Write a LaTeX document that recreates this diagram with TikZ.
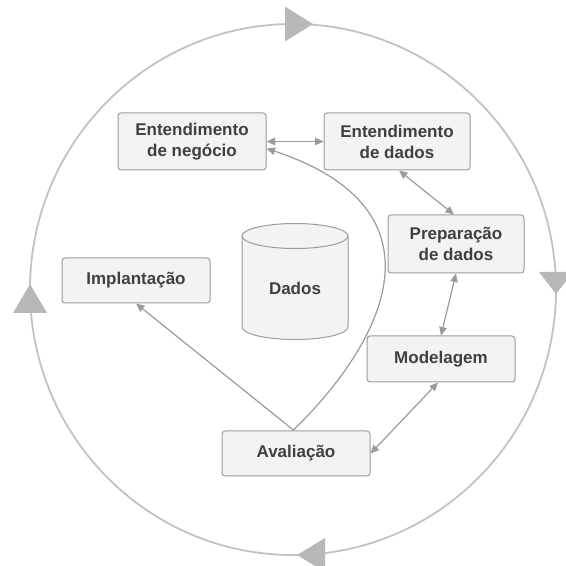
\documentclass[tikz,border=0pt]{standalone}
\usepackage{fontspec}
\setmainfont{Liberation Sans}
\usetikzlibrary{arrows.meta}
\definecolor{boxfill}{HTML}{F3F3F3}
\definecolor{boxline}{HTML}{9C9C9C}
\definecolor{txt}{HTML}{404040}
\definecolor{ring}{HTML}{C2C2C2}
\definecolor{tri}{HTML}{B8B8B8}
\definecolor{conn}{HTML}{9A9A9A}
\begin{document}
\begin{tikzpicture}[x=1pt,y=1pt,
  stagebox/.style={draw=boxline, fill=boxfill, line width=1pt, rounded corners=3pt,
    align=center, font=\fontsize{17}{21}\selectfont\bfseries, text=txt, inner sep=0pt},
  twoway/.style={draw=conn, line width=1.2pt,
    {Triangle[length=8.5pt,width=7.5pt]}-{Triangle[length=8.5pt,width=7.5pt]}},
  oneway/.style={draw=conn, line width=1.2pt, -{Triangle[length=8.5pt,width=7.5pt]}},
  ringtri/.style={fill=tri}
]
\useasboundingbox (0,0) rectangle (566,566);
% cycle ring
\draw[ring, line width=1.8pt] (293,276.5) ellipse[x radius=263, y radius=265.5];
\fill[ringtri] (313,542) -- (285,559.5) -- (285,524.5) -- cycle;
\fill[ringtri] (556,272) -- (539,294) -- (573,294) -- cycle;
\fill[ringtri] (30,282) -- (13,253) -- (47,253) -- cycle;
\fill[ringtri] (297,11) -- (325,28) -- (325,-6) -- cycle;

% data cylinder
\filldraw[draw=boxline, fill=boxfill, line width=1pt]
  (242,330) -- (242,239) arc[start angle=180, end angle=360, x radius=53, y radius=12.5]
  -- (348,330) arc[start angle=0, end angle=180, x radius=53, y radius=12.5] -- cycle;
\draw[boxline, line width=1pt] (242,330) arc[start angle=180, end angle=360, x radius=53, y radius=12.5];
\node[font=\fontsize{17}{21}\selectfont\bfseries, text=txt] (dados) at (295,278) {Dados};

% stages
\node[stagebox, minimum width=148pt, minimum height=57pt] (neg) at (192,424.5) {Entendimento\\de negócio};
\node[stagebox, minimum width=146pt, minimum height=57pt] (dad) at (397,424.5) {Entendimento\\de dados};
\node[stagebox, minimum width=136pt, minimum height=58pt] (prep) at (456,322) {Preparação\\de dados};
\node[stagebox, minimum width=148pt, minimum height=46pt] (mod) at (441,207) {Modelagem};
\node[stagebox, minimum width=148pt, minimum height=45pt] (impl) at (136,285.5) {Implantação};
\node[stagebox, minimum width=148pt, minimum height=45pt] (aval) at (296,112.5) {Avaliação};

% connectors
\draw[twoway] (neg.east) -- (dad.west);
\draw[twoway] ([xshift=2pt]dad.south) -- ([xshift=-2pt]prep.north);
\draw[twoway] (prep.south) -- (mod.north);
\draw[twoway] ([xshift=-3pt]mod.south) -- (aval.east);
\draw[oneway] ([xshift=-2pt]aval.north) -- (impl.south);
\draw[oneway] ([xshift=-3pt]aval.north) .. controls (384,224) and (452,356) .. ([yshift=-7pt]neg.east);
\end{tikzpicture}
\end{document}
